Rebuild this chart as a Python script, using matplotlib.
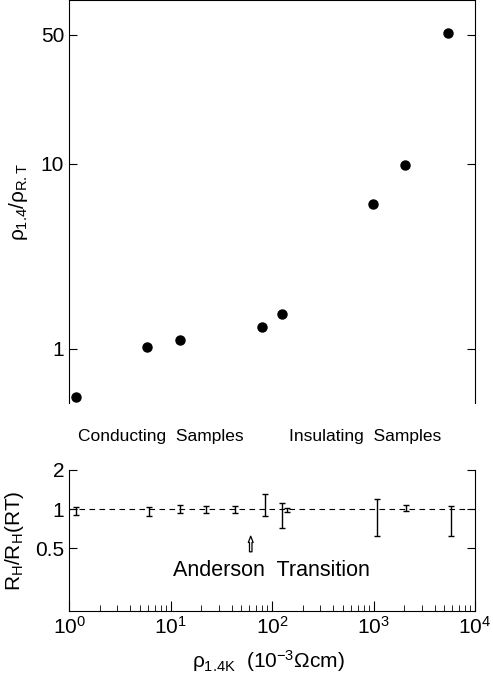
import numpy as np
import matplotlib
matplotlib.use("Agg")
import matplotlib.pyplot as plt
from matplotlib.ticker import NullLocator, FixedLocator

plt.rcParams['font.family'] = ['Liberation Sans', 'DejaVu Sans']
plt.rcParams['mathtext.fontset'] = 'custom'
plt.rcParams['mathtext.rm'] = 'Liberation Sans'
plt.rcParams['mathtext.it'] = 'Liberation Sans'

# panneau du haut : rapport des resistivites
rho_x = [1.17, 5.8, 12.3, 80, 125, 980, 2050, 5400]
rho_ratio = [0.55, 1.02, 1.12, 1.32, 1.55, 6.05, 9.9, 51]

# panneau du bas : rapport de Hall avec barres d'erreur
hall_x = [1.17, 6.2, 12.4, 22.2, 42.9, 84.7, 125, 141, 1083, 2104, 5760]
hall_mid = [0.96, 0.96, 1.0, 0.99, 0.99, 1.06, 0.90, 0.98, 0.86, 1.02, 0.81]
hall_lo = [0.90, 0.89, 0.93, 0.93, 0.93, 0.89, 0.71, 0.95, 0.62, 0.96, 0.62]
hall_hi = [1.03, 1.04, 1.07, 1.06, 1.05, 1.30, 1.12, 1.01, 1.19, 1.08, 1.05]

top_yticks = [1, 10, 50]
bot_yticks = [0.5, 1, 2]
arrow_x = 61.7

fig = plt.figure(figsize=(4.93, 6.74), dpi=100)
ax1 = fig.add_axes([0.140, 0.402, 0.8235, 0.598])
ax2 = fig.add_axes([0.140, 0.0935, 0.8235, 0.2092], sharex=ax1)

# haut
ax1.plot(rho_x, rho_ratio, 'o', color='black', markersize=6.5)
ax1.set_xscale('log')
ax1.set_yscale('log')
ax1.set_xlim(1, 1e4)
ax1.set_ylim(0.51, 77)
ax1.spines['bottom'].set_visible(False)
ax1.yaxis.set_major_locator(FixedLocator(top_yticks))
ax1.yaxis.set_minor_locator(NullLocator())
ax1.set_yticklabels(['1', '10', '50'])
ax1.tick_params(axis='y', direction='in', left=True, right=True, length=6, labelsize=15)
ax1.tick_params(axis='x', which='both', bottom=False, top=False, labelbottom=False)
ax1.set_ylabel(r'$\rho_{1.4}/\rho_{\mathrm{R.T}}$', fontsize=15)
ax1.yaxis.set_label_coords(-0.096, 0.5)
for s in ax1.spines.values():
    s.set_linewidth(0.8)

# bas
err = [np.array(hall_mid) - np.array(hall_lo), np.array(hall_hi) - np.array(hall_mid)]
ax2.errorbar(hall_x, hall_mid, yerr=err, fmt='none', ecolor='black',
             elinewidth=1.0, capsize=2, capthick=1.0)
ax2.axhline(1, color='black', lw=0.8, dashes=(5, 4))
ax2.set_yscale('log')
ax2.set_ylim(0.164, 2)
ax2.spines['top'].set_visible(False)
ax2.yaxis.set_major_locator(FixedLocator(bot_yticks))
ax2.yaxis.set_minor_locator(NullLocator())
ax2.set_yticklabels(['0.5', '1', '2'])
ax2.tick_params(axis='y', direction='in', left=True, right=True, length=6, labelsize=15)
ax2.tick_params(axis='x', which='major', direction='in', length=7, labelsize=15)
ax2.tick_params(axis='x', which='minor', direction='in', length=4)
ax2.set_ylabel(r'$R_H/R_H(RT)$', fontsize=15)
ax2.yaxis.set_label_coords(-0.105, 0.5)
ax2.set_xlabel(r'$\rho_{1.4\mathrm{K}}$  $(10^{-3}\Omega\mathrm{cm})$', fontsize=15)
ax2.xaxis.set_label_coords(0.49, -0.26)
for s in ax2.spines.values():
    s.set_linewidth(0.8)

ax2.text(0.021, 1.236, 'Conducting  Samples', transform=ax2.transAxes,
         fontsize=12.5, va='center', ha='left')
ax2.text(0.542, 1.236, 'Insulating  Samples', transform=ax2.transAxes,
         fontsize=12.5, va='center', ha='left')
ax2.text(0.4975, 0.284, 'Anderson  Transition', transform=ax2.transAxes,
         fontsize=15.5, va='center', ha='center')
ax2.annotate('', xy=(arrow_x, 0.55), xytext=(arrow_x, 0.40),
             xycoords=('data', 'axes fraction'), textcoords=('data', 'axes fraction'),
             arrowprops=dict(arrowstyle='simple,head_width=0.35,head_length=0.45,tail_width=0.18',
                             fc='white', ec='black', lw=0.9))

fig.savefig('out.png', dpi=100)
